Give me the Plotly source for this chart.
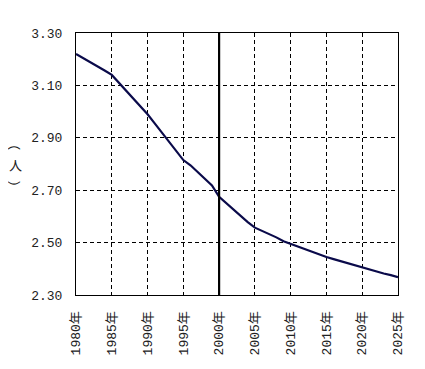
import plotly.graph_objects as go

years = list(range(1980, 2026))
persons = [3.22, 3.205, 3.19, 3.173, 3.157, 3.14, 3.11, 3.08, 3.05, 3.02,
           2.99, 2.955, 2.92, 2.885, 2.85, 2.815, 2.795, 2.77, 2.745, 2.718,
           2.675, 2.65, 2.625, 2.60, 2.578, 2.557, 2.545, 2.533, 2.52, 2.505,
           2.495, 2.484, 2.474, 2.463, 2.455, 2.445, 2.437, 2.429, 2.42, 2.412,
           2.404, 2.397, 2.39, 2.382, 2.376, 2.368]
x_ticks = list(range(1980, 2026, 5))
x_labels = [f"{y}年" for y in x_ticks]
y_ticks = [2.30, 2.50, 2.70, 2.90, 3.10, 3.30]
ref_year = 2000
unit_chars = ["(", "人", ")"]
unit_angles = [90, 0, 90]
unit_pos = [0.561, 0.492, 0.427]

font_fam = "Liberation Mono, Noto Sans CJK JP, monospace"

fig = go.Figure()
fig.add_trace(go.Scatter(x=years, y=persons, mode="lines",
                         line=dict(color="#0a0a4a", width=2.2),
                         showlegend=False, hoverinfo="skip"))

fig.add_shape(type="line", xref="x", yref="paper", x0=ref_year, x1=ref_year,
              y0=0, y1=1, line=dict(color="black", width=2.2))

for ch, ang, yp in zip(unit_chars, unit_angles, unit_pos):
    fig.add_annotation(text=ch, xref="paper", yref="paper",
                       x=-0.189, y=yp, showarrow=False, textangle=ang,
                       font=dict(family="Liberation Mono, Noto Sans CJK JP", size=13,
                                 color="#222"),
                       xanchor="center", yanchor="middle")

fig.update_xaxes(range=[1980, 2025], tickvals=x_ticks, ticktext=x_labels,
                 tickangle=-90, showgrid=True, gridcolor="black", griddash="4px,3px",
                 gridwidth=1, showline=True, linecolor="black", linewidth=1,
                 mirror=True, zeroline=False, ticks="", ticklabelstandoff=10,
                 tickfont=dict(family=font_fam, size=13, color="#222"))
fig.update_yaxes(range=[2.30, 3.30], tickvals=y_ticks, tickformat=".2f",
                 showgrid=True, gridcolor="black", griddash="4px,3px", gridwidth=1,
                 showline=True, linecolor="black", linewidth=1, mirror=True,
                 zeroline=False, ticks="", ticklabelstandoff=10,
                 tickfont=dict(family=font_fam, size=13, color="#222"))

fig.update_layout(width=417, height=361, plot_bgcolor="white", paper_bgcolor="white",
                  margin=dict(l=68, r=27, t=25, b=74), autosize=False)

fig.write_html("out.html")
